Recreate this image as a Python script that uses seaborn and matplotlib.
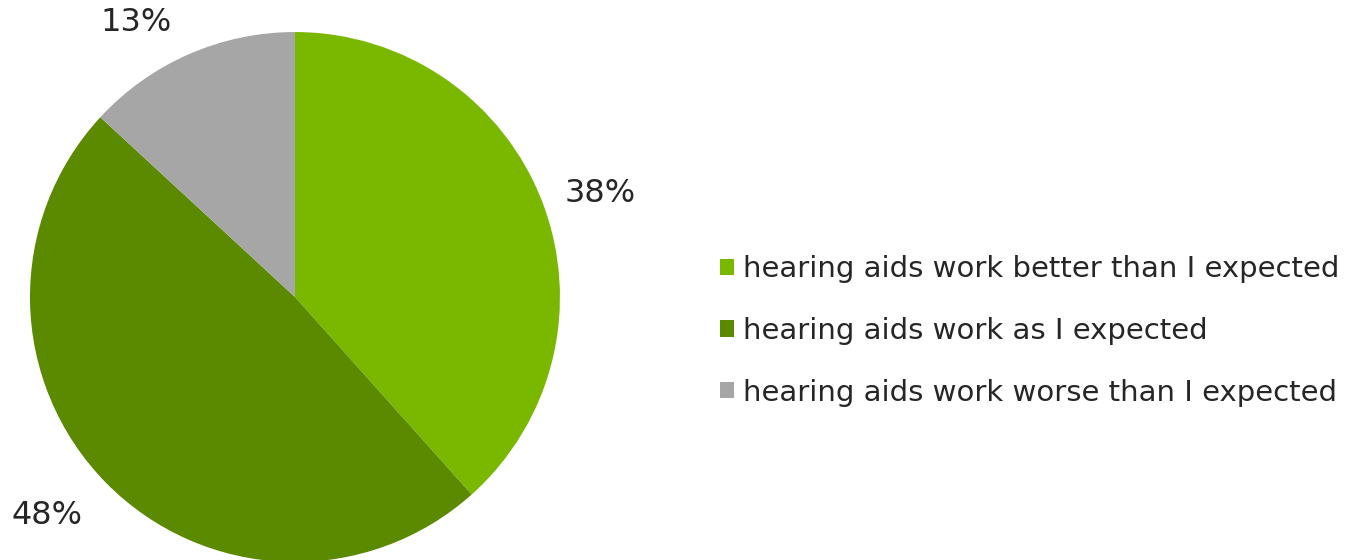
import matplotlib
matplotlib.use('Agg')
import matplotlib.pyplot as plt
import matplotlib.patches as mpatches
import seaborn as sns

# data
categories = ['hearing aids work better than I expected',
              'hearing aids work as I expected',
              'hearing aids work worse than I expected']
shares = [38, 48, 13]
pct_labels = [f'{v}%' for v in shares]

LIGHT = '#7ab800'
DARK = '#5b8a00'
GREY = '#a6a6a6'
TEXT = '#262626'
colors = sns.color_palette([LIGHT, DARK, GREY])

# small nudges so labels sit like the spreadsheet's outside-end labels
label_nudge = [(0.01, -0.045), (-0.065, 0.03), (-0.11, -0.08)]

sns.set_theme(style='white')
plt.rcParams['font.family'] = ['DejaVu Sans']

fig = plt.figure(figsize=(13.5, 5.6), dpi=100)
ax = fig.add_axes([0.0222, -0.0036, 0.3926, 0.9464])

wedges, texts = ax.pie(shares, labels=pct_labels, colors=colors,
                       startangle=90, counterclock=False,
                       labeldistance=1.22,
                       wedgeprops=dict(linewidth=0, edgecolor='none'),
                       textprops=dict(fontsize=23, color=TEXT))
for t, (dx, dy) in zip(texts, label_nudge):
    x, y = t.get_position()
    t.set_position((x + dx, y + dy))
    t.set_ha('center')
    t.set_va('center')
    t.set_clip_on(False)
ax.set_xlim(-1, 1)
ax.set_ylim(-1, 1)
ax.set_aspect('equal')
ax.axis('off')

handles = [mpatches.Patch(facecolor=c, edgecolor='none', label=l)
           for c, l in zip(colors, categories)]
fig.legend(handles=handles, loc='center left', bbox_to_anchor=(0.533, 0.409),
           frameon=False, fontsize=21, labelcolor=TEXT,
           handlelength=0.5, handleheight=0.5, handletextpad=0.3,
           labelspacing=1.15, borderpad=0, borderaxespad=0)

fig.savefig('out.png', dpi=100, facecolor='white')
